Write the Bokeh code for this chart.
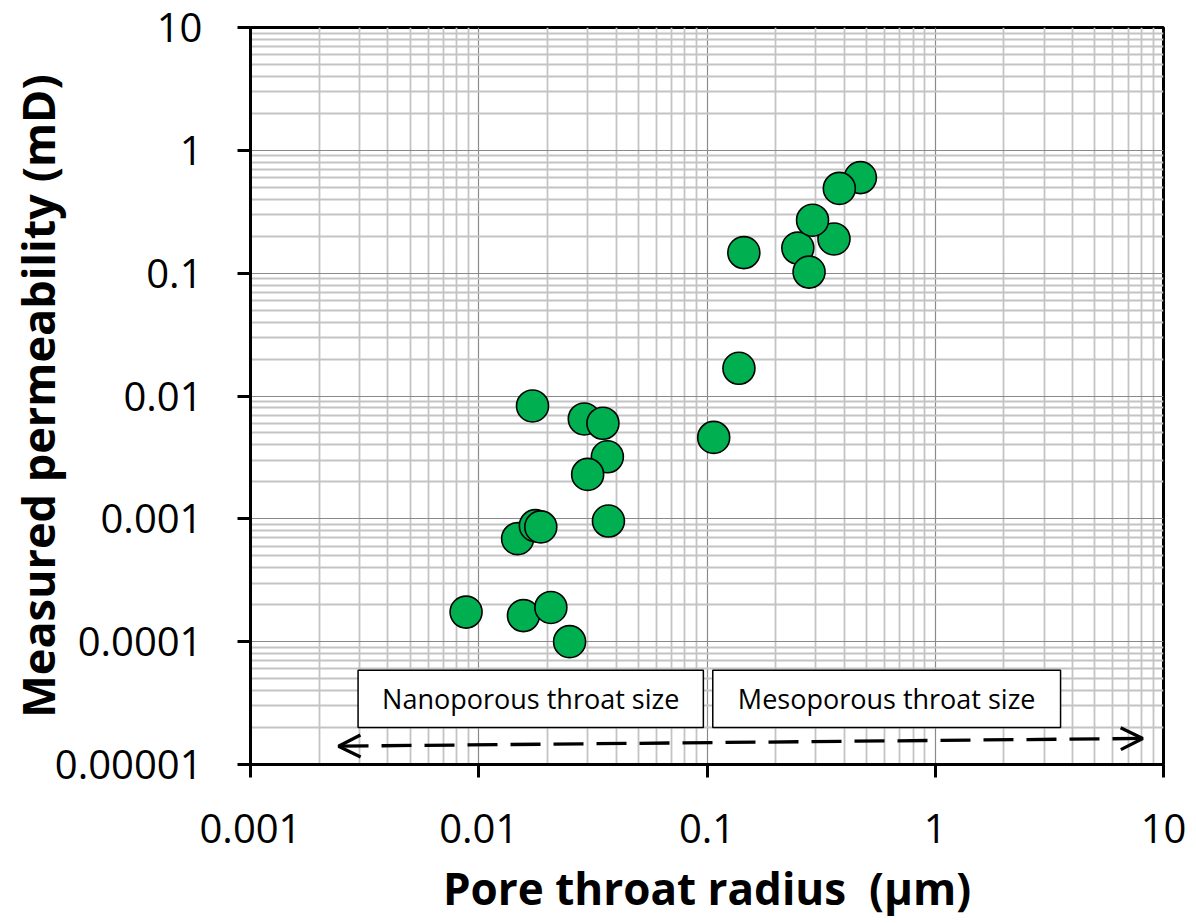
from bokeh.plotting import figure
from bokeh.models import (FixedTicker, CustomJSTickFormatter, BoxAnnotation,
                          Label, Arrow, OpenHead, ColumnDataSource)
from bokeh.embed import file_html
from bokeh.resources import INLINE

# Pore throat radius (µm) and measured permeability (mD) per sample
radius_um = [0.47, 0.38, 0.36, 0.25, 0.29, 0.28, 0.145, 0.138, 0.107,
             0.0172, 0.029, 0.035, 0.0366, 0.030, 0.037, 0.0148, 0.0177,
             0.0187, 0.0088, 0.0157, 0.0207, 0.025]
perm_md = [0.60, 0.49, 0.19, 0.16, 0.27, 0.102, 0.147, 0.0168, 0.0046,
           0.0083, 0.0065, 0.0060, 0.0032, 0.0023, 0.00096, 0.00069, 0.00088,
           0.00086, 0.000174, 0.000163, 0.00019, 0.0001]

x_tick_vals = [0.001, 0.01, 0.1, 1, 10]
x_tick_labels = ["0.001", "0.01", "0.1", "1", "10"]
y_tick_vals = [0.00001, 0.0001, 0.001, 0.01, 0.1, 1, 10]
y_tick_labels = ["0.00001", "0.0001", "0.001", "0.01", "0.1", "1", "10"]

# Throat-size classes: box extents (µm, mD) and captions
class_names = ["Nanoporous throat size", "Mesoporous throat size"]
class_left = [0.00296, 0.106]
class_right = [0.0964, 3.54]
class_bottom = [0.0000200, 0.0000200]
class_top = [0.0000585, 0.0000585]

# Double-headed range arrow (µm, mD)
arrow_x = [0.00243, 8.11]
arrow_y = [0.0000141, 0.0000163]


def minor_positions(decades):
    return [k * d for d in decades[:-1] for k in range(2, 10)]


def label_formatter(vals, labs):
    return CustomJSTickFormatter(args=dict(vals=vals, labs=labs), code="""
        for (let i = 0; i < vals.length; i++) {
            if (Math.abs(Math.log10(tick) - Math.log10(vals[i])) < 1e-6) return labs[i];
        }
        return "";
    """)


p = figure(x_axis_type="log", y_axis_type="log",
           x_range=(x_tick_vals[0], x_tick_vals[-1]),
           y_range=(y_tick_vals[0], y_tick_vals[-1]),
           frame_width=913, frame_height=737,
           min_border_left=250, min_border_right=33,
           min_border_top=27, min_border_bottom=159,
           output_backend="svg", toolbar_location=None)

p.background_fill_color = "white"
p.border_fill_color = "white"
p.outline_line_color = "black"
p.outline_line_width = 3

p.xaxis.ticker = FixedTicker(ticks=x_tick_vals, minor_ticks=minor_positions(x_tick_vals))
p.yaxis.ticker = FixedTicker(ticks=y_tick_vals, minor_ticks=minor_positions(y_tick_vals))
p.xaxis.formatter = label_formatter(x_tick_vals, x_tick_labels)
p.yaxis.formatter = label_formatter(y_tick_vals, y_tick_labels)

for ax in (p.xaxis, p.yaxis):
    ax.axis_line_color = "black"
    ax.axis_line_width = 3
    ax.major_tick_line_color = "black"
    ax.major_tick_line_width = 3
    ax.major_tick_out = 13
    ax.major_tick_in = 0
    ax.minor_tick_out = 0
    ax.minor_tick_in = 0
    ax.major_label_text_font = "Open Sans"
    ax.major_label_text_font_size = "40px"
    ax.major_label_text_color = "black"
    ax.axis_label_text_font = "Open Sans"
    ax.axis_label_text_font_style = "bold"
    ax.axis_label_text_color = "black"

p.xaxis.axis_label_text_font_size = "44px"
p.yaxis.axis_label_text_font_size = "45px"
p.xaxis.major_label_standoff = 36
p.yaxis.major_label_standoff = 35
p.xaxis.axis_label = "Pore throat radius\u00a0\u00a0(µm)"
p.yaxis.axis_label = "Measured permeability (mD)"
p.xaxis.axis_label_standoff = 12
p.yaxis.axis_label_standoff = -16

for g in (p.xgrid, p.ygrid):
    g.grid_line_color = "#8a8a8a"
    g.grid_line_width = 1.2
    g.minor_grid_line_color = "#c4c4c4"
    g.minor_grid_line_width = 1.8

src = ColumnDataSource(data=dict(x=radius_um, y=perm_md))
p.scatter("x", "y", source=src, size=32, fill_color="#00B050",
          line_color="black", line_width=1.6)

for name, l, r, b, t in zip(class_names, class_left, class_right, class_bottom, class_top):
    p.add_layout(BoxAnnotation(left=l, right=r, bottom=b, top=t,
                               fill_color="white", fill_alpha=1.0,
                               line_color="black", line_alpha=1.0, line_width=1.5))
    p.add_layout(Label(x=(l * r) ** 0.5, y=(b * t) ** 0.5, text=name,
                       text_align="center", text_baseline="middle",
                       text_font="Open Sans", text_font_size="27px",
                       text_color="black"))

p.add_layout(Arrow(x_start=arrow_x[0], y_start=arrow_y[0],
                   x_end=arrow_x[1], y_end=arrow_y[1],
                   start=OpenHead(size=22, line_width=3.3, line_color="black"),
                   end=OpenHead(size=22, line_width=3.3, line_color="black"),
                   line_color="black", line_width=3.3, line_dash="30 13"))

with open("out.html", "w") as f:
    f.write(file_html(p, INLINE))
